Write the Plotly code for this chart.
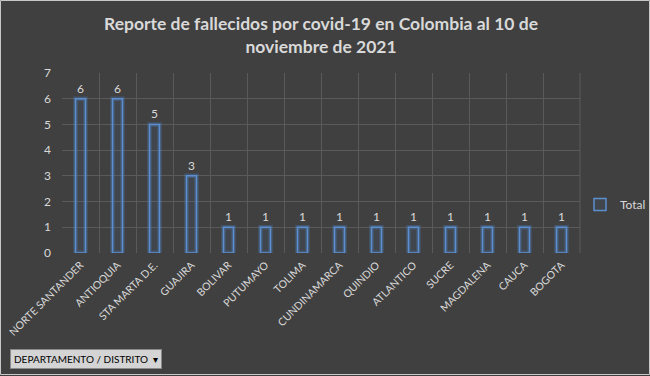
import plotly.graph_objects as go

categories = ["NORTE SANTANDER", "ANTIOQUIA", "STA MARTA D.E.", "GUAJIRA", "BOLIVAR",
              "PUTUMAYO", "TOLIMA", "CUNDINAMARCA", "QUINDIO", "ATLANTICO", "SUCRE",
              "MAGDALENA", "CAUCA", "BOGOTA"]
totals = [6, 6, 5, 3, 1, 1, 1, 1, 1, 1, 1, 1, 1, 1]
y_ticks = [0, 1, 2, 3, 4, 5, 6, 7]

FONT = "Lato, Carlito, sans-serif"
TXT = "#d9d9d9"
BG = "#404040"
L, R, T, B = 62, 70, 73, 123
PW, PH = 650 - L - R, 376 - T - B

def px_x(x):
    return (x - L) / PW

def px_y(y):
    return (376 - B - y) / PH

fig = go.Figure()
# soft glow behind the bars
fig.add_trace(go.Bar(
    x=categories, y=totals, name="glow", showlegend=False, hoverinfo="skip",
    marker=dict(color="rgba(0,0,0,0)", line=dict(color="rgba(79,140,220,0.28)", width=4.5)),
    width=0.27,
))
fig.add_trace(go.Bar(
    x=categories, y=totals, name="Total",
    marker=dict(color="rgba(79,129,189,0.10)", line=dict(color="#5b8fd0", width=1.5)),
    width=0.27,
    text=totals, textposition="outside",
    textfont=dict(color=TXT, size=12, family=FONT),
    cliponaxis=False,
))

fig.update_layout(
    width=650, height=376,
    paper_bgcolor=BG, plot_bgcolor=BG,
    margin=dict(l=L, r=R, t=T, b=B, autoexpand=False),
    font=dict(family=FONT, color=TXT, size=11),
    showlegend=True,
    barmode="overlay",
    legend=dict(x=1.0, xanchor="left", y=0.27, yanchor="middle",
                font=dict(color=TXT, size=12, family=FONT), bgcolor="rgba(0,0,0,0)"),
    xaxis=dict(type="category", tickson="boundaries", showgrid=True, gridcolor="#5a5a5a",
               gridwidth=1, tickangle=-45, ticks="", showline=False, automargin=False,
               ticklabelstandoff=3,
               tickfont=dict(size=10.5, color=TXT, family=FONT)),
    yaxis=dict(range=[0, 7], tickvals=y_ticks, showgrid=True, gridcolor="#5a5a5a",
               zeroline=False, ticks="", showline=False, automargin=False,
               ticklabelstandoff=10,
               tickfont=dict(size=12, color=TXT, family=FONT)),
)

fig.add_shape(type="line", xref="paper", yref="paper", x0=1, x1=1, y0=0, y1=1,
              line=dict(color="#5a5a5a", width=1), layer="below")

fig.add_annotation(
    xref="paper", yref="paper", x=0.5, y=px_y(35), xanchor="center", yanchor="middle",
    showarrow=False,
    text="<b>Reporte de fallecidos por covid-19 en Colombia al 10 de<br>noviembre de 2021</b>",
    font=dict(family=FONT, size=17.5, color=TXT),
)

fig.add_annotation(
    xref="paper", yref="paper", x=px_x(10), y=px_y(359),
    xanchor="left", yanchor="middle", showarrow=False,
    text="DEPARTAMENTO / DISTRITO  \u25be",
    font=dict(family=FONT, size=10, color="#000000"),
    bgcolor="#d4d4d4", bordercolor="#8a8a8a", borderwidth=1, borderpad=3,
)

fig.add_shape(type="rect", xref="paper", yref="paper",
              x0=px_x(0.5), x1=px_x(649.5), y0=px_y(374.5), y1=px_y(0.5),
              line=dict(color="#c8c8c8", width=1), fillcolor="rgba(0,0,0,0)", layer="below")

fig.write_html("out.html", config={"displayModeBar": False},
               post_script="document.body.style.margin='0';document.body.style.overflow='hidden';")
